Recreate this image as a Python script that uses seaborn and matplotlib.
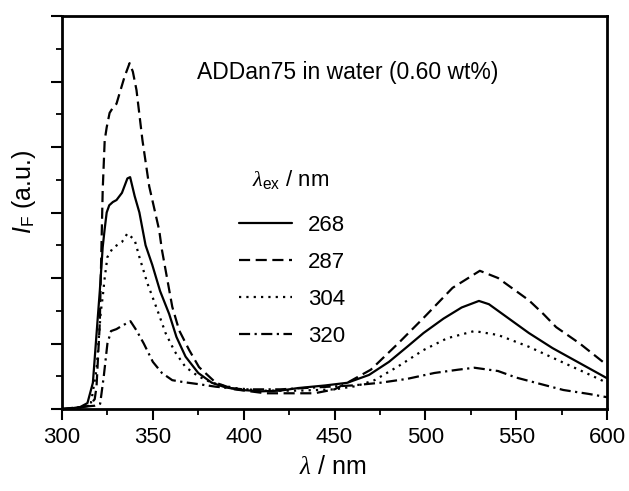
import matplotlib
matplotlib.use("Agg")
import matplotlib.pyplot as plt
from matplotlib.ticker import MultipleLocator, NullFormatter
import seaborn as sns
import pandas as pd

# ---- data ----
wl_268 = [300, 305, 310, 314, 317, 319.7, 320.8, 322.4, 323.5, 324.6, 326, 328, 330, 333, 336, 337.5,
          340, 342.6, 346, 349.7, 354, 359, 363, 368, 375, 382.5, 390, 399, 410, 420, 430, 445, 457,
          469, 480, 490, 499, 510, 520, 529.5, 535, 545, 557, 570, 585, 600]
if_268 = [0.0, 0.01, 0.03, 0.09, 0.4, 1.4, 1.8, 2.47, 2.75, 3.0, 3.11, 3.16, 3.19, 3.3, 3.52, 3.54,
          3.25, 3.0, 2.5, 2.2, 1.8, 1.45, 1.1, 0.8, 0.55, 0.4, 0.33, 0.29, 0.27, 0.28, 0.32, 0.36, 0.40,
          0.52, 0.72, 0.95, 1.16, 1.38, 1.55, 1.65, 1.60, 1.40, 1.16, 0.93, 0.70, 0.47]

wl_287 = [300, 310, 315, 318, 319, 320.8, 322.4, 323.5, 324.6, 326.2, 328, 330, 331.7, 334.4, 337.2,
          339, 341, 344.3, 348, 353.5, 355, 360.7, 364.5, 370, 375.4, 384.7, 395, 412, 439, 450, 457,
          470, 485, 499, 515, 530, 540, 557, 565, 572, 585, 600]
if_287 = [0.0, 0.02, 0.05, 0.15, 0.34, 1.31, 3.34, 4.1, 4.3, 4.52, 4.6, 4.66, 4.82, 5.07, 5.28,
          5.15, 4.87, 4.1, 3.4, 2.73, 2.43, 1.56, 1.2, 0.9, 0.64, 0.4, 0.3, 0.24, 0.24, 0.3, 0.4,
          0.6, 1.0, 1.39, 1.85, 2.11, 2.0, 1.66, 1.45, 1.25, 1.0, 0.67]

wl_304 = [300, 310, 316, 319, 321.3, 322.4, 323.5, 325, 328, 333, 336, 340, 342.6, 347, 352.5, 357,
          362, 368, 375, 382.5, 395, 410, 430, 450, 462, 472, 485, 499, 512, 527, 540, 557, 575, 590, 600]
if_304 = [0.0, 0.02, 0.1, 0.6, 1.47, 1.71, 2.0, 2.32, 2.46, 2.55, 2.68, 2.58, 2.32, 1.92, 1.51, 1.16,
          0.88, 0.64, 0.5, 0.4, 0.32, 0.28, 0.28, 0.3, 0.35, 0.44, 0.65, 0.9, 1.08, 1.19, 1.13, 0.95, 0.72, 0.53, 0.4]

wl_320 = [300, 310, 318, 321, 323, 325, 327, 330, 333, 337.7, 341, 345, 350, 355, 360.7, 367, 375,
          384.7, 400, 420, 440, 460, 475, 490, 505, 518, 527, 540, 550, 565, 576, 590, 600]
if_320 = [0.0, 0.03, 0.05, 0.08, 0.5, 1.0, 1.19, 1.22, 1.27, 1.34, 1.2, 1.0, 0.72, 0.55, 0.44, 0.41, 0.38,
          0.34, 0.3, 0.3, 0.33, 0.36, 0.4, 0.46, 0.55, 0.6, 0.63, 0.58, 0.48, 0.37, 0.29, 0.23, 0.18]

series_labels = ["268", "287", "304", "320"]
x_ticks = [300, 350, 400, 450, 500, 550, 600]

# ---- build long table ----
frames = []
for lab, wl, yv in zip(series_labels, [wl_268, wl_287, wl_304, wl_320], [if_268, if_287, if_304, if_320]):
    frames.append(pd.DataFrame({"wl": wl, "I": yv, "ex": lab}))
df = pd.concat(frames, ignore_index=True)

sns.set_style("ticks")
plt.rcParams["font.family"] = ["Liberation Sans", "DejaVu Sans"]
plt.rcParams["mathtext.fontset"] = "custom"
plt.rcParams["mathtext.it"] = "Liberation Serif:italic"
plt.rcParams["mathtext.rm"] = "Liberation Sans"
plt.rcParams["mathtext.sf"] = "Liberation Sans:italic"
for key in ["text.color", "axes.labelcolor", "xtick.color", "ytick.color", "axes.edgecolor"]:
    plt.rcParams[key] = "black"

fig = plt.figure(figsize=(6.29, 4.91), dpi=100)
ax = fig.add_axes([62 / 629, 1 - 409 / 491, 545 / 629, 393 / 491])

dash_map = {"268": "", "287": (5, 2.5), "304": (1, 2.3), "320": (5, 2, 1, 2)}
sns.lineplot(data=df, x="wl", y="I", style="ex", style_order=series_labels, dashes=dash_map,
             color="black", linewidth=1.6, sort=False, estimator=None, ax=ax, legend=True)

ax.set_xlim(300, 600)
ax.set_ylim(0, 6)
ax.set_xticks(x_ticks)
ax.xaxis.set_minor_locator(MultipleLocator(25))
ax.yaxis.set_major_locator(MultipleLocator(1))
ax.yaxis.set_minor_locator(MultipleLocator(0.5))
ax.yaxis.set_major_formatter(NullFormatter())
ax.tick_params(axis="both", which="major", direction="out", length=8, width=1.5, labelsize=16, pad=5,
               colors="black")
ax.tick_params(axis="both", which="minor", direction="out", length=4.5, width=1.3, colors="black")
for sp in ax.spines.values():
    sp.set_linewidth(2)
    sp.set_color("black")

ax.set_xlabel(r"$\lambda$ / nm", fontsize=18, color="black")
ax.set_ylabel(r"$\mathsf{I}_{\mathrm{F}}$ (a.u.)", fontsize=18, color="black")
ax.xaxis.set_label_coords(0.497, -0.118)
ax.yaxis.set_label_coords(-0.044, 0.553)

ax.text(0.248, 0.857, "ADDan75 in water (0.60 wt%)", transform=ax.transAxes,
        fontsize=16.5, ha="left", va="center", color="black")
ax.text(0.42, 0.583, r"$\lambda_{\mathrm{ex}}$ / nm", transform=ax.transAxes,
        fontsize=16, ha="center", va="center", color="black")

handles, labels = ax.get_legend_handles_labels()
leg = ax.legend(handles, labels, frameon=False,
                fontsize=16, handlelength=2.4, handletextpad=0.7,
                labelspacing=0.71, loc="center left", bbox_to_anchor=(0.325, 0.326),
                borderaxespad=0, borderpad=0, labelcolor="black")
for ln in leg.get_lines():
    ln.set_linewidth(1.6)

fig.savefig("out.png", dpi=100)
